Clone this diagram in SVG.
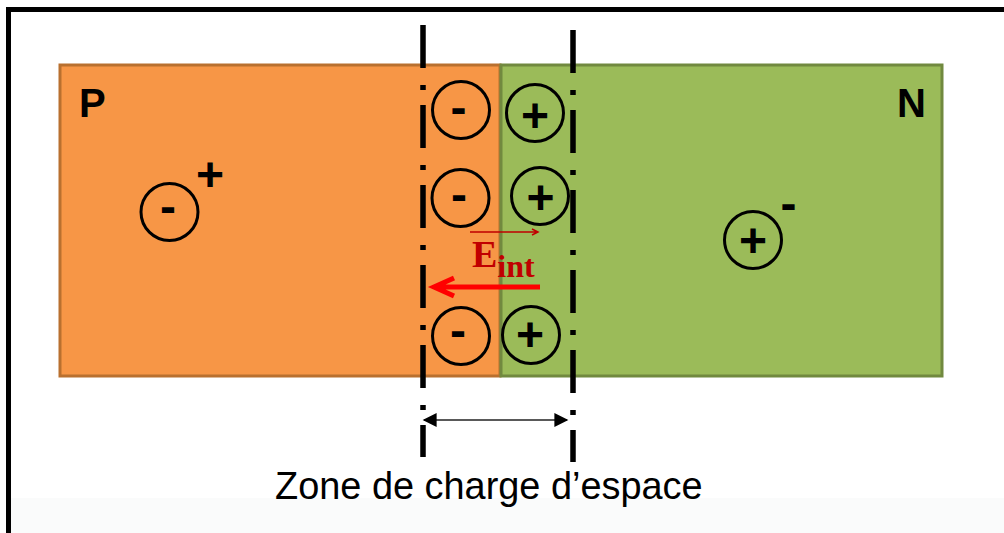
<svg xmlns="http://www.w3.org/2000/svg" width="1004" height="533" viewBox="0 0 1004 533">
  <defs>
    <style>
      .ring { fill: none; stroke: #000; stroke-width: 3; }
      .sign { font-family: "Liberation Sans", Arial, sans-serif; font-weight: bold; font-size: 48px; fill: #000; text-anchor: middle; }
      .lbl { font-family: "Liberation Sans", Arial, sans-serif; font-weight: bold; font-size: 40px; fill: #000; }
      .dd { fill: none; stroke: #000; stroke-width: 5.5; stroke-dasharray: 43 17 5 15; }
    </style>
    <marker id="tri" viewBox="0 0 10 10" refX="9" refY="5" markerWidth="15" markerHeight="14" markerUnits="userSpaceOnUse" orient="auto-start-reverse">
      <path d="M0 0 L10 5 L0 10 Z" fill="#000"/>
    </marker>
  </defs>
  <rect x="0" y="0" width="1004" height="533" fill="#fff"/>
  <rect x="11" y="498" width="993" height="35" fill="#fafbfb"/>
  <path d="M8.5 533 V9.5 H1004" fill="none" stroke="#000" stroke-width="5"/>

  <g id="region-p">
    <rect x="60" y="65" width="440" height="311" fill="#f79646" stroke="#b9702f" stroke-width="3"/>
    <text class="lbl" x="79" y="117">P</text>
  </g>
  <g id="region-n">
    <rect x="501" y="65" width="441" height="311" fill="#9bbb59" stroke="#71893f" stroke-width="3"/>
    <text class="lbl" x="897" y="117">N</text>
  </g>

  <g id="ion-p-free">
    <circle class="ring" cx="169.5" cy="212" r="28.5"/>
    <text class="sign" x="168" y="222.5">-</text>
    <text class="sign" x="210" y="191">+</text>
  </g>
  <g id="ion-n-free">
    <circle class="ring" cx="753" cy="240" r="28.5"/>
    <text class="sign" x="753" y="257">+</text>
    <text class="sign" x="788.5" y="219.5">-</text>
  </g>

  <g id="ion-minus-1"><circle class="ring" cx="461" cy="110" r="28.5"/><text class="sign" x="458.5" y="124">-</text></g>
  <g id="ion-plus-1"><circle class="ring" cx="535" cy="113" r="28.5"/><text class="sign" x="535" y="132">+</text></g>
  <g id="ion-minus-2"><circle class="ring" cx="460.5" cy="198" r="28.5"/><text class="sign" x="459" y="210.5">-</text></g>
  <g id="ion-plus-2"><circle class="ring" cx="540" cy="196" r="28.5"/><text class="sign" x="540.5" y="213.5">+</text></g>
  <g id="ion-minus-3"><circle class="ring" cx="461" cy="336" r="28.5"/><text class="sign" x="458" y="346.5">-</text></g>
  <g id="ion-plus-3"><circle class="ring" cx="531" cy="335" r="28.5"/><text class="sign" x="530" y="351">+</text></g>

  <g id="boundaries">
    <line class="dd" x1="423" y1="25" x2="423" y2="457"/>
    <line class="dd" x1="573" y1="30" x2="573" y2="462"/>
  </g>

  <g id="field-label">
    <text x="472" y="267" font-family="'Liberation Serif', 'Times New Roman', serif" font-weight="bold" fill="#c00000" font-size="38">E<tspan font-size="32" dy="10">int</tspan></text>
  </g>

  <g id="connectors">
    <path d="M470 232 H538 M532 229 L538 232 L532 235" fill="none" stroke="#c00000" stroke-width="1.5"/>
    <path d="M540 287 H437 M454 278 L434 287 L454 296" fill="none" stroke="#ff0000" stroke-width="5"/>
    <line x1="424" y1="420" x2="567" y2="420" stroke="#595959" stroke-width="2" marker-start="url(#tri)" marker-end="url(#tri)"/>
  </g>

  <g id="zone-label">
    <text x="275" y="499" font-family="'Liberation Sans', Arial, sans-serif" font-size="37.9" fill="#000">Zone de charge d’espace</text>
  </g>
</svg>
